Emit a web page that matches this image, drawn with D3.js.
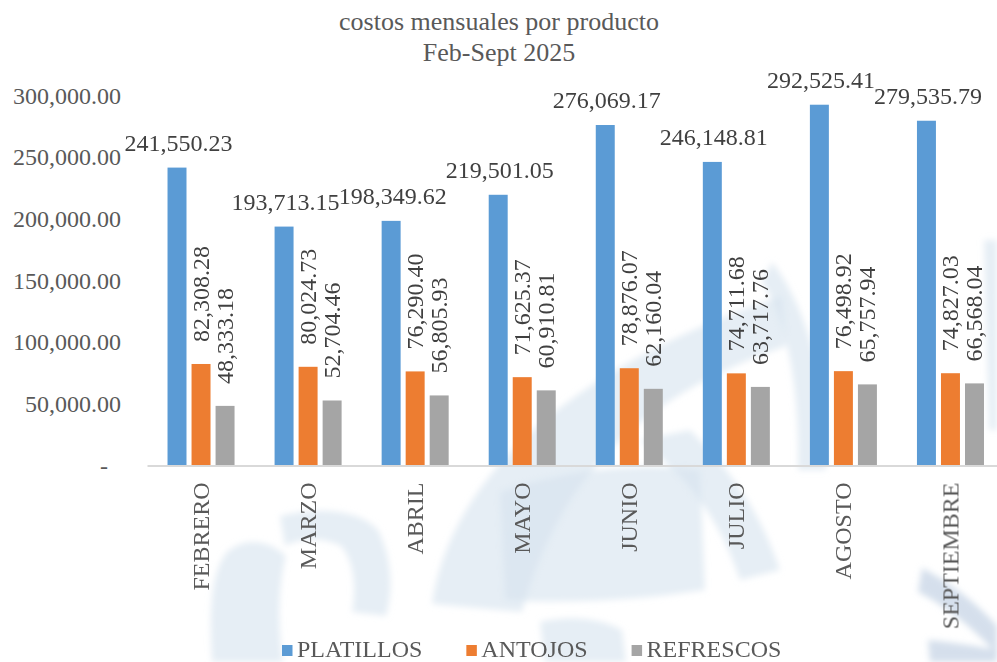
<!DOCTYPE html>
<html>
<head>
<meta charset="utf-8">
<script src="https://cdn.jsdelivr.net/npm/d3@7"></script>
<style>
  html, body { margin: 0; padding: 0; background: #fff; }
  svg { display: block; font-family: "Liberation Serif", "Times New Roman", serif; }
</style>
</head>
<body>
<svg id="chart" width="997" height="662"></svg>
<script>
// Monthly costs by product, Feb–Sept 2025
const months = ["FEBRERO", "MARZO", "ABRIL", "MAYO", "JUNIO", "JULIO", "AGOSTO", "SEPTIEMBRE"];
const seriesNames = ["PLATILLOS", "ANTOJOS", "REFRESCOS"];
const platillos = [241550.23, 193713.15, 198349.62, 219501.05, 276069.17, 246148.81, 292525.41, 279535.79];
const antojos   = [82308.28, 80024.73, 76290.40, 71625.37, 78876.07, 74711.68, 76498.92, 74827.03];
const refrescos = [48333.18, 52704.46, 56805.93, 60910.81, 62160.04, 63717.76, 65757.94, 66568.04];
const yTicks = [0, 50000, 100000, 150000, 200000, 250000, 300000];
const titleLines = ["costos mensuales por producto", "Feb-Sept 2025"];

const seriesValues = [platillos, antojos, refrescos];
const colors = ["#5B9BD5", "#ED7D31", "#A5A5A5"];

const svg = d3.select("#chart");

// faint logo artwork behind the plot
const defs = svg.append("defs");
defs.append("filter").attr("id", "soft").attr("x", "-20%").attr("y", "-20%").attr("width", "140%").attr("height", "140%")
  .append("feGaussianBlur").attr("stdDeviation", 3);
const bg = svg.append("g").attr("filter", "url(#soft)");
const lightShapes = [
  "M212,662 C209,610 211,572 227,552 C244,537 268,539 286,556 C279,582 277,622 283,662 Z",
  "M280,516 C320,506 360,510 378,530 C393,560 393,592 386,616 L352,612 C357,585 353,560 341,546 C320,536 300,539 285,546 Z",
  "M432,604 C452,470 582,362 782,296 L786,346 C642,396 562,472 522,612 Z",
  "M500,492 C560,470 640,462 700,470 L705,590 C640,600 570,604 505,600 Z",
  "M640,440 C690,480 720,520 740,580 L780,570 C760,510 730,470 690,430 Z",
  "M772,262 C804,302 830,382 826,470 L798,470 C800,392 788,322 762,282 Z",
  "M984,240 L997,240 L997,430 L989,430 Z",
  "M540,622 C570,615 600,618 622,630 L626,662 L545,662 Z"
];
bg.selectAll("path.l").data(lightShapes).join("path").attr("class", "l")
  .attr("d", d => d).attr("fill", "#d6e2ef").attr("opacity", 0.6);
const darkShapes = [
  "M922,568 C950,582 980,606 997,626 L997,654 C975,630 946,606 918,592 Z",
  "M928,640 C950,642 975,646 997,650 L997,662 L930,662 Z"
];
bg.selectAll("path.d").data(darkShapes).join("path").attr("class", "d")
  .attr("d", d => d).attr("fill", "#c3d2e4").attr("opacity", 0.7);

// scales
const x0 = d3.scaleBand().domain(months).range([147.5, 1004]).paddingInner(0.374).paddingOuter(0.187);
const x1 = d3.scaleBand().domain(seriesNames).range([0, x0.bandwidth()]).paddingInner(0.21).paddingOuter(0);
const y = d3.scaleLinear().domain([0, 300000]).range([465.5, 95.5]);

const fmt = d3.format(",.2f");

// title
svg.append("g").selectAll("text").data(titleLines).join("text")
  .attr("x", 499).attr("y", (d, i) => 30 + i * 31)
  .attr("text-anchor", "middle").attr("font-size", 26).attr("fill", "#595959")
  .text(d => d);

// y axis labels (no axis line)
const yAxis = d3.axisLeft(y).tickValues(yTicks).tickSize(0).tickPadding(0)
  .tickFormat(d => d === 0 ? "-" : fmt(d));
const yg = svg.append("g").attr("transform", "translate(121,0)").call(yAxis);
yg.select(".domain").remove();
yg.selectAll("text").attr("font-size", 24).attr("fill", "#595959")
  .attr("font-family", "Liberation Serif, Times New Roman, serif").attr("dy", "0.32em")
  .attr("dx", d => d === 0 ? -13 : 0);

// bars
const groups = svg.append("g").selectAll("g").data(months).join("g")
  .attr("transform", d => `translate(${x0(d)},0)`);

groups.selectAll("rect").data((m, i) => seriesNames.map((s, k) => ({ s, k, v: seriesValues[k][i] })))
  .join("rect")
  .attr("x", d => x1(d.s)).attr("width", x1.bandwidth())
  .attr("y", d => y(d.v)).attr("height", d => y(0) - y(d.v))
  .attr("fill", d => colors[d.k]);

// value labels
groups.selectAll("text.val").data((m, i) => seriesNames.map((s, k) => ({ s, k, v: seriesValues[k][i] })))
  .join("text").attr("class", "val")
  .attr("font-size", 24).attr("fill", "#404040")
  .each(function(d) {
    const t = d3.select(this);
    const cx = x1(d.s) + x1.bandwidth() / 2;
    if (d.k === 0) {
      t.attr("x", cx + 1.5).attr("y", y(d.v) - 17).attr("text-anchor", "middle");
    } else {
      t.attr("transform", `translate(${cx + 8},${y(d.v) - 22}) rotate(-90)`)
        .attr("text-anchor", "start");
    }
  })
  .text(d => fmt(d.v));

// x axis
const xAxis = d3.axisBottom(x0).tickSize(0).tickPadding(0);
const xg = svg.append("g").attr("transform", `translate(0,${y(0)})`).call(xAxis);
xg.select(".domain").remove();
xg.append("line").attr("x1", 147.5).attr("x2", 997).attr("y1", 0).attr("y2", 0)
  .attr("stroke", "#D9D9D9").attr("stroke-width", 2);
xg.selectAll(".tick text")
  .attr("font-size", 24).attr("fill", "#595959")
  .attr("font-family", "Liberation Serif, Times New Roman, serif")
  .attr("text-anchor", "end").attr("dy", null).attr("y", 0)
  .attr("transform", "translate(8,17) rotate(-90)");

// legend
const legend = svg.append("g");
let lx = 282;
seriesNames.forEach((s, k) => {
  legend.append("rect").attr("x", lx).attr("y", 645).attr("width", 10.5).attr("height", 11).attr("fill", colors[k]);
  const t = legend.append("text").attr("x", lx + 15).attr("y", 657)
    .attr("font-size", 24).attr("fill", "#595959").text(s);
  lx = lx + 15 + t.node().getComputedTextLength() + 44;
});
</script>
</body>
</html>
